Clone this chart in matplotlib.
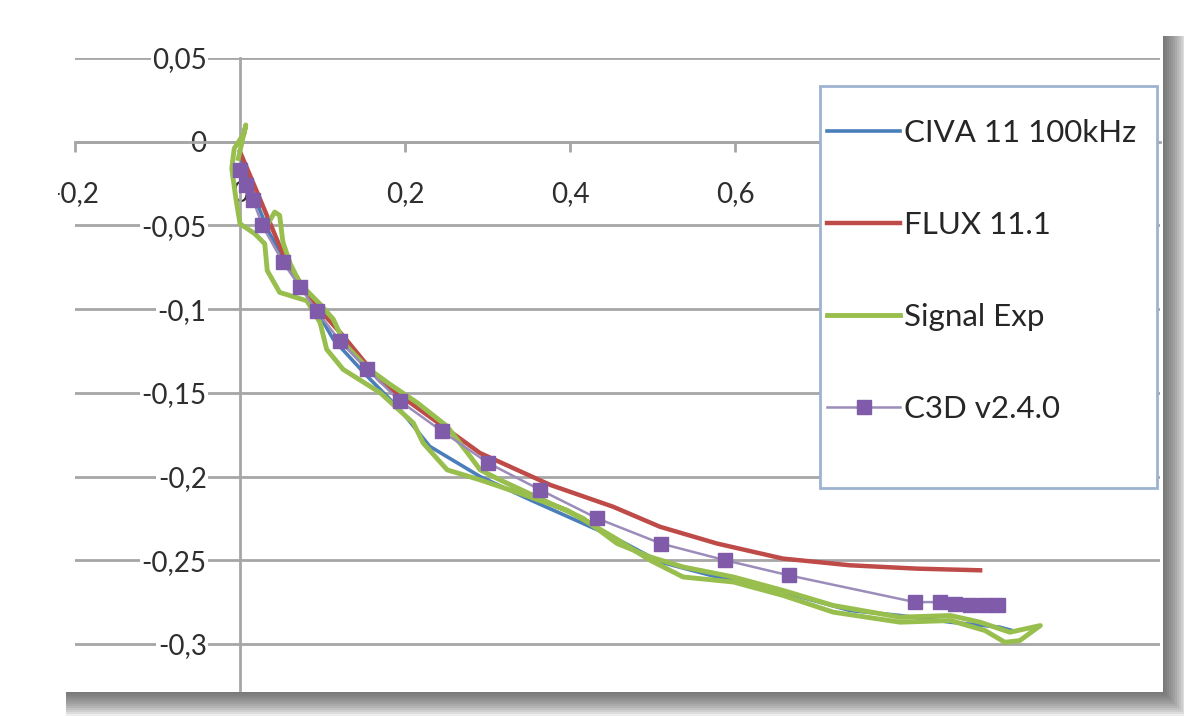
import matplotlib
matplotlib.use("Agg")
import matplotlib.pyplot as plt
from matplotlib.patches import Rectangle
from matplotlib.ticker import FuncFormatter

plt.rcParams["font.family"] = ["Lato", "DejaVu Sans"]

# --- data ---
civa_x = [0.001, 0.018, 0.036, 0.061, 0.085, 0.113, 0.152, 0.194, 0.230, 0.291,
          0.352, 0.452, 0.509, 0.578, 0.658, 0.739, 0.800, 0.861, 0.921, 0.936]
civa_y = [-0.010, -0.034, -0.055, -0.076, -0.094, -0.118, -0.139, -0.160, -0.182, -0.200,
          -0.214, -0.236, -0.251, -0.260, -0.269, -0.280, -0.283, -0.287, -0.290, -0.292]

flux_x = [0.000, 0.024, 0.052, 0.085, 0.125, 0.170, 0.246, 0.291, 0.376, 0.452,
          0.509, 0.578, 0.658, 0.739, 0.820, 0.897]
flux_y = [-0.006, -0.034, -0.067, -0.094, -0.116, -0.143, -0.170, -0.186, -0.205, -0.218,
          -0.230, -0.240, -0.249, -0.253, -0.255, -0.256]

signal_x = [-0.002, 0.007, 0.005, -0.007, -0.010, -0.005, 0.000, 0.018, 0.030, 0.033,
            0.048, 0.081, 0.097, 0.105, 0.125, 0.154, 0.170, 0.210, 0.222, 0.251,
            0.291, 0.339, 0.396, 0.452, 0.497, 0.537, 0.598, 0.658, 0.719, 0.800,
            0.861, 0.903, 0.927, 0.945, 0.970,
            0.933, 0.897, 0.861, 0.800, 0.719, 0.658, 0.598, 0.537, 0.497, 0.457,
            0.416, 0.376, 0.315, 0.291, 0.279, 0.251, 0.215, 0.182, 0.154, 0.127,
            0.113, 0.097, 0.073, 0.061, 0.052, 0.048, 0.042, 0.034]
signal_y = [-0.010, 0.010, 0.005, -0.004, -0.016, -0.034, -0.049, -0.055, -0.061, -0.077,
            -0.090, -0.095, -0.108, -0.124, -0.136, -0.145, -0.150, -0.168, -0.180, -0.196,
            -0.202, -0.210, -0.220, -0.236, -0.250, -0.260, -0.263, -0.271, -0.281, -0.287,
            -0.286, -0.292, -0.299, -0.298, -0.289,
            -0.293, -0.287, -0.283, -0.284, -0.277, -0.268, -0.260, -0.254, -0.248, -0.240,
            -0.225, -0.216, -0.202, -0.196, -0.188, -0.170, -0.156, -0.145, -0.135, -0.121,
            -0.106, -0.097, -0.085, -0.073, -0.060, -0.044, -0.042, -0.049]

c3d_x = [0.000, 0.007, 0.016, 0.027, 0.052, 0.073, 0.093, 0.121, 0.154, 0.194,
         0.245, 0.301, 0.364, 0.433, 0.510, 0.588, 0.665, 0.818, 0.848, 0.867,
         0.885, 0.903, 0.919]
c3d_y = [-0.017, -0.026, -0.035, -0.050, -0.072, -0.087, -0.101, -0.119, -0.136, -0.155,
         -0.173, -0.192, -0.208, -0.225, -0.240, -0.250, -0.259, -0.275, -0.275, -0.276,
         -0.277, -0.277, -0.277]

labels = ["CIVA 11 100kHz", "FLUX 11.1", "Signal Exp", "C3D v2.4.0"]
colors = ["#4A7EBB", "#BE4B48", "#98BE4E", "#7F5BAA"]
x_ticks = [-0.2, 0, 0.2, 0.4, 0.6, 0.8, 1.0]
y_ticks = [0.05, 0, -0.05, -0.1, -0.15, -0.2, -0.25, -0.3]

W, H = 1184, 717
fig = plt.figure(figsize=(W / 100, H / 100), dpi=100)


def fx(px):
    return px / W


def fy(py):
    return 1 - py / H


# soft shadow on the right and bottom of the chart area
for d in range(24, 0, -2):
    fig.add_artist(Rectangle((fx(66), fy(692 + d)), fx(1163 + d) - fx(66), (692 + d - 36) / H,
                             transform=fig.transFigure, facecolor="#404040", edgecolor="none",
                             alpha=0.09, zorder=-3))
fig.add_artist(Rectangle((0, fy(692)), fx(1163), 692 / H, transform=fig.transFigure,
                         facecolor="white", edgecolor="none", zorder=-1))

ax = fig.add_axes([fx(75), fy(690), fx(1160) - fx(75), (690 - 58) / H])
ax.patch.set_alpha(0)
ax.set_xlim(-0.2, 1.115)
ax.set_ylim(-0.3275, 0.05)

grey = "#A6A6A6"
for s in ["top", "right"]:
    ax.spines[s].set_visible(False)
ax.spines["left"].set_position(("data", 0))
ax.spines["bottom"].set_position(("data", 0))
for s in ["left", "bottom"]:
    ax.spines[s].set_color(grey)
    ax.spines[s].set_linewidth(2)

ax.set_yticks(y_ticks)
ax.set_xticks(x_ticks)
ax.grid(axis="y", color=grey, linewidth=2)
ax.set_axisbelow(True)

fmt = FuncFormatter(lambda v, p: f"{v:g}".replace(".", ","))
ax.xaxis.set_major_formatter(fmt)
ax.yaxis.set_major_formatter(fmt)
ax.tick_params(axis="x", direction="out", length=7, width=2, color=grey, pad=21,
               labelsize=20, labelcolor="#2E2E2E")
ax.tick_params(axis="y", length=0, pad=24, labelsize=20, labelcolor="#2E2E2E")
for lbl in ax.get_yticklabels():
    lbl.set_bbox(dict(facecolor="white", edgecolor="none", pad=1))

ax.plot(civa_x, civa_y, color=colors[0], lw=2.6, label=labels[0], zorder=3)
ax.plot(flux_x, flux_y, color=colors[1], lw=3.2, label=labels[1], zorder=3)
ax.plot(signal_x, signal_y, color=colors[2], lw=3.5, label=labels[2], zorder=3,
        solid_joinstyle="round")
ax.plot(c3d_x, c3d_y, color="#9C8CBA", lw=1.8, marker="s", ms=10,
        mfc=colors[3], mec=colors[3], label=labels[3], zorder=4)

# legend box drawn separately so the padding can match
ax.add_patch(Rectangle((fx(820), fy(488)), fx(1157) - fx(820), (488 - 86) / H,
                       transform=fig.transFigure, facecolor="white", edgecolor="#9DB3D0",
                       linewidth=2, zorder=4.5, clip_on=False))
leg = ax.legend(loc="upper left", bbox_to_anchor=(fx(827), fy(119)),
                bbox_transform=fig.transFigure, frameon=False, borderpad=0,
                borderaxespad=0, fontsize=22.5, handlelength=2.35, handletextpad=0.1,
                labelspacing=2.05, numpoints=1)
leg.set_zorder(5)
for t in leg.get_texts():
    t.set_color("#262626")

# hide what falls left of the chart area (minus sign of -0,2)
fig.add_artist(Rectangle((0, 0), fx(58), 1, transform=fig.transFigure,
                         facecolor="white", edgecolor="none", zorder=2))

fig.savefig("out.png", dpi=100)
